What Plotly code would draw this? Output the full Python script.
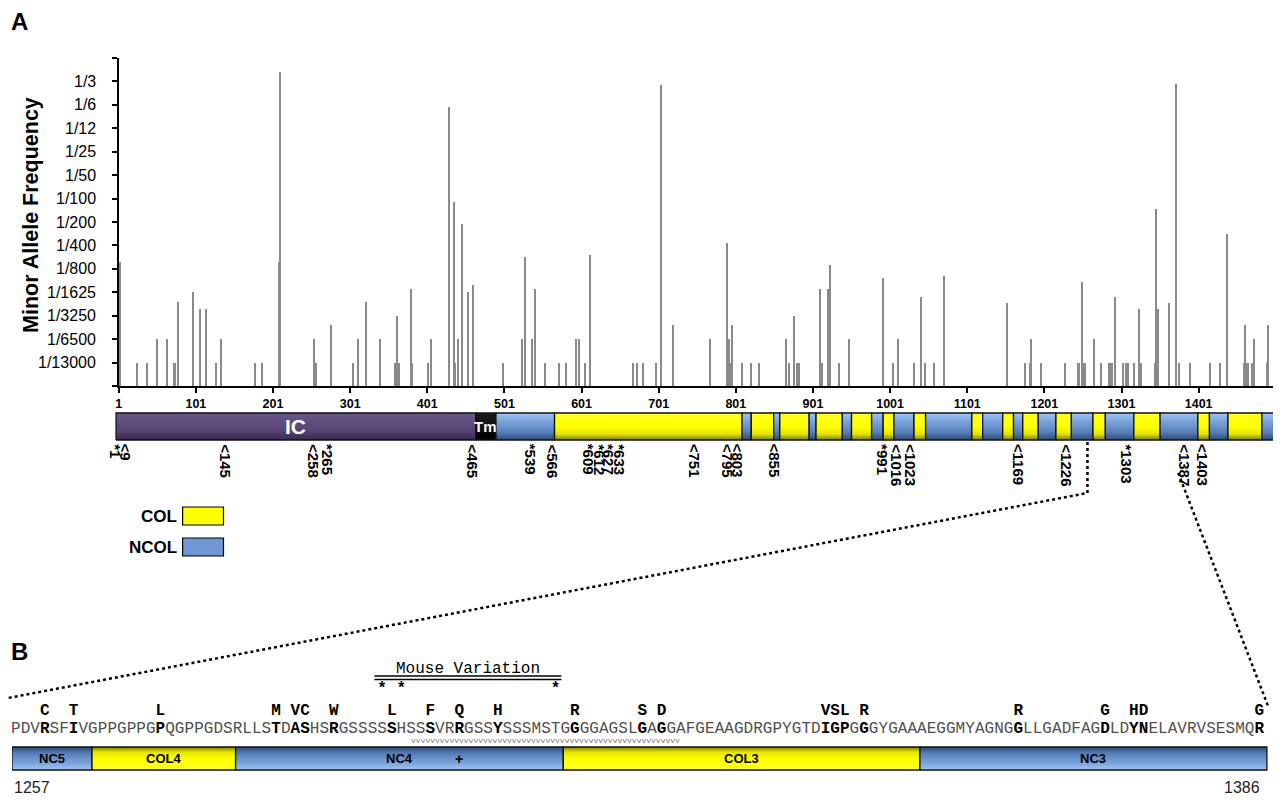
import plotly.graph_objects as go

W, H = 1281, 800
OFF = 8  # page body margin around the plot div
FW, FH = W - OFF, H - OFF

# =========================
# PANEL A DATA
# =========================
freq_labels = ["1/13000", "1/6500", "1/3250", "1/1625", "1/800", "1/400", "1/200",
               "1/100", "1/50", "1/25", "1/12", "1/6", "1/3"]
pos_ticks = [1, 101, 201, 301, 401, 501, 601, 701, 801, 901, 1001, 1101, 1201, 1301, 1401]

# residue position of each variant and its frequency level (1 = 1/13000, 13 = 1/3)
snp_pos = [3, 25, 38, 51, 63, 72, 74, 78, 97, 106, 114, 127, 134, 178, 186, 209, 210, 254, 257, 276,
           304, 311, 321, 339, 359, 362, 364, 380, 381, 402, 406, 429, 436, 437, 441, 446, 453, 460,
           499, 524, 527, 536, 541, 553, 572, 580, 593, 597, 605, 612, 668, 673, 680, 697, 704, 719,
           767, 789, 792, 794, 796, 809, 821, 831, 866, 870, 876, 880, 883, 910, 912, 920, 923, 935, 948,
           992, 1004, 1011, 1032, 1041, 1046, 1058, 1071, 1152, 1176, 1182, 1184, 1196, 1227, 1245, 1246,
           1249, 1252, 1254, 1265, 1274, 1285, 1287, 1289, 1293, 1303, 1306, 1309, 1317, 1324, 1326, 1344,
           1345, 1348, 1363, 1372, 1375, 1389, 1416, 1428, 1437, 1460, 1461, 1462, 1463, 1465, 1470, 1472,
           1489, 1491, 1499]
snp_level = [5.3, 1, 1, 2, 2, 1, 1, 3.6, 4.0, 3.3, 3.3, 1, 2, 1, 1, 5.3, 13.4, 2, 1, 2.6,
             1, 2, 3.6, 2, 1, 3.0, 1, 4.15, 1, 1, 2, 11.9, 7.85, 1, 2, 6.9, 4.0, 4.3,
             1, 2, 5.5, 2, 4.15, 1, 1, 1, 2, 2, 1, 5.6, 1, 1, 1, 1, 12.85, 2.6,
             2, 6.1, 2, 1, 2.6, 1, 1, 1, 2, 1, 3.0, 1, 1, 4.15, 1, 4.15, 5.15, 1, 2,
             4.6, 1, 2, 1, 3.8, 1, 1, 4.7, 3.55, 1, 1, 2, 1, 1, 1, 1,
             4.45, 1, 1, 2, 1, 1, 1, 1, 3.8, 1, 1, 1, 1, 3.3, 1, 1,
             7.55, 3.3, 3.55, 12.9, 1, 1, 1, 1, 6.5, 1, 2.6, 1, 1, 1, 1, 2,
             1, 2.6, 1]

# protein domain map (segment edges in residues)
dom_edges = [-2.5, 464, 490, 566, 809, 821, 850, 858, 896, 905, 939, 951, 977, 992, 1006, 1032, 1047,
             1107, 1121, 1147, 1161, 1173, 1193, 1216, 1236, 1264, 1280, 1317, 1351, 1400, 1415, 1439,
             1483, 1500]
dom_kind = ["IC", "Tm",
            "NCOL", "COL", "NCOL", "COL", "NCOL", "COL", "NCOL", "COL", "NCOL", "COL", "NCOL",
            "COL", "NCOL", "COL", "NCOL", "COL", "NCOL", "COL", "NCOL", "COL", "NCOL", "COL",
            "NCOL", "COL", "NCOL", "COL", "NCOL", "COL", "NCOL", "COL", "NCOL"]

site_text = ["*1", "<9", "<145", "<258", "*265", "<465", "*539", "<566", "*609", "*612", "*627",
             "*633", "<751", "<795", "<803", "<855", "*991", "<1016", "<1023", "<1169", "<1226",
             "*1303", "<1387", "<1403"]
site_res = [1, 9, 145, 258, 265, 465, 539, 566, 609, 612, 627, 633, 751, 795, 803, 855, 991, 1016,
            1023, 1169, 1226, 1303, 1387, 1403]
site_nudge = [-3, 1, -4, -3, 5, -4, -3, -2, 1, 9, 7, 13, -2, -3, 1, -2, 0, -5, 4, -1, 3, 3, -3, 3]

# =========================
# PANEL B DATA
# =========================
seq_first = 1257
seq = ("PDVRSFIVGPPGPPGPQGPPGDSRLLSTDASHSRGSSSSSHSSSVRRGSSYSSSMSTGGGGAGSLGAGGAFGEAAGDRGPYG"
       "TDIGPGGGYGAAAEGGMYAGNGGLLGADFAGDLDYNELAVRVSESMQR")
var_res = [1260, 1263, 1272, 1284, 1286, 1287, 1290, 1296, 1300, 1303, 1307, 1315, 1322, 1324,
           1341, 1342, 1343, 1345, 1361, 1370, 1373, 1374, 1386]
var_aa = ["C", "T", "L", "M", "V", "C", "W", "L", "F", "Q", "H", "R", "S", "D",
          "V", "S", "L", "R", "R", "G", "H", "D", "G"]
mouse_res = [1295, 1297, 1313]
wavy_span = [1300, 1324]

b_edges = [1256.6, 1264.9, 1279.8, 1313.8, 1350.8, 1386.8]
b_kind = ["NCOL", "COL", "NCOL", "COL", "NCOL"]
b_name = ["NC5", "COL4", "NC4", "COL3", "NC3"]
plus_res = 1303

GRAD = {
    "NCOL": [[0, "#2c4b75"], [0.3, "#5880ba"], [0.75, "#80a9e1"], [1, "#a4c6f3"]],
    "COL": [[0, "#7a7a00"], [0.22, "#e4e400"], [0.5, "#ffff00"], [1, "#ffff2a"]],
    "IC": [[0, "#38294f"], [0.35, "#574474"], [1, "#6b578b"]],
    "Tm": [[0, "#000000"], [1, "#1c1c1c"]],
}
FONT = "Arial, Liberation Sans, sans-serif"
MONO = "Courier New, Liberation Mono, monospace"

# pixel helpers (pixel = position on the 1281x800 page)
sx = (1275 - 116) / (1500 - 1)


def res_a(px):
    return 1 + (px - 116) / sx


cw = 1256 / 130


def res_b(px):
    return seq_first - 0.5 + (px - 8) / cw


def px_x(px):
    return (px - OFF) / FW


def px_y(py):
    return 1 - (py - OFF) / FH


def segment(x0, x1, y0, y1, kind, xa, ya, flip=False):
    cs = GRAD[kind]
    if flip:
        cs = [[1 - p, c] for p, c in reversed(cs)]
    return go.Scatter(x=[x0, x1, x1, x0, x0], y=[y0, y0, y1, y1, y0], mode="lines",
                      fill="toself", fillgradient=dict(type="vertical", colorscale=cs),
                      line=dict(color="#111111", width=1.3), xaxis=xa, yaxis=ya,
                      hoverinfo="skip", showlegend=False)


fig = go.Figure()

# frequency bars
fig.add_trace(go.Bar(x=snp_pos, y=snp_level, width=1.6,
                     marker=dict(color="#8a8a8a", line=dict(width=0)),
                     xaxis="x", yaxis="y", hoverinfo="skip"))

# domain map A
for i, k in enumerate(dom_kind):
    fig.add_trace(segment(dom_edges[i], dom_edges[i + 1], 0, 1, k, "x2", "y2"))

# panel B domain bar
for i, k in enumerate(b_kind):
    fig.add_trace(segment(b_edges[i], b_edges[i + 1], 770, 747, k, "x3", "y3", flip=True))

# sequence
bold = set(var_res)
seq_x = [seq_first + i for i in range(len(seq))]
seq_txt = ["<b>%s</b>" % c if seq_first + i in bold else c for i, c in enumerate(seq)]
seq_col = ["#000000" if seq_first + i in bold else "#505050" for i, c in enumerate(seq)]
fig.add_trace(go.Scatter(x=seq_x, y=[729] * len(seq), mode="text", text=seq_txt,
                         textfont=dict(family=MONO, size=16, color=seq_col),
                         xaxis="x3", yaxis="y3", cliponaxis=False, hoverinfo="skip"))
fig.add_trace(go.Scatter(x=var_res, y=[711] * len(var_res), mode="text",
                         text=["<b>%s</b>" % a for a in var_aa],
                         textfont=dict(family=MONO, size=16, color="black"),
                         xaxis="x3", yaxis="y3", cliponaxis=False, hoverinfo="skip"))
fig.add_trace(go.Scatter(x=mouse_res, y=[689] * len(mouse_res), mode="text",
                         text=["<b>*</b>"] * len(mouse_res),
                         textfont=dict(family=MONO, size=16, color="black"),
                         xaxis="x3", yaxis="y3", cliponaxis=False, hoverinfo="skip"))
lo, hi = min(mouse_res) - 0.8, max(mouse_res) + 0.6
for yy in (676, 679.5):
    fig.add_trace(go.Scatter(x=[lo, hi], y=[yy, yy], mode="lines",
                             line=dict(color="black", width=1.6),
                             xaxis="x3", yaxis="y3", hoverinfo="skip"))

fig.update_layout(
    width=FW, height=FH, margin=dict(l=0, r=0, t=0, b=0),
    paper_bgcolor="white", plot_bgcolor="rgba(0,0,0,0)",
    showlegend=False, bargap=0,
    font=dict(family=FONT, color="black"),
    xaxis=dict(domain=[px_x(116), px_x(1275)], range=[1, 1500], anchor="y",
               showline=True, linecolor="black", linewidth=2, ticks="outside", ticklen=5,
               tickwidth=2, tickcolor="black", tickvals=pos_ticks,
               tickfont=dict(size=12.5, weight="bold", family=FONT),
               showgrid=False, zeroline=False),
    yaxis=dict(domain=[px_y(386), px_y(58)], range=[0, 14], anchor="x",
               showline=True, linecolor="black", linewidth=2, ticks="outside", ticklen=5,
               tickwidth=2, tickcolor="black", tickvals=list(range(15)),
               showticklabels=False, showgrid=False, zeroline=False),
    xaxis2=dict(domain=[px_x(110), px_x(1279)], range=[res_a(110), res_a(1279)],
                anchor="y2", visible=False),
    yaxis2=dict(domain=[px_y(442), px_y(411)], range=[-2 / 27, 1 + 2 / 27],
                anchor="x2", visible=False),
    xaxis3=dict(domain=[px_x(9), px_x(1272)], range=[res_b(9), res_b(1272)],
                anchor="y3", visible=False),
    yaxis3=dict(domain=[px_y(778), px_y(652)], range=[778, 652], anchor="x3", visible=False),
)

ann = []


def pann(px, py, text, xa="center", ya="middle", **kw):
    d = dict(x=px_x(px), y=px_y(py), xref="paper", yref="paper", text=text,
             showarrow=False, xanchor=xa, yanchor=ya)
    d.update(kw)
    ann.append(d)


pann(17, 21, "<b>A</b>", font=dict(size=24, family=FONT))
pann(17, 651, "<b>B</b>", font=dict(size=24, family=FONT))
pann(28, 215, "<b>Minor Allele Frequency</b>", textangle=-90, font=dict(size=21.5, family=FONT))

# y tick labels, set back from the axis as in the original
for i, lbl in enumerate(freq_labels):
    ann.append(dict(x=px_x(95), y=i + 1, xref="paper", yref="y", text=lbl, showarrow=False,
                    xanchor="right", yanchor="middle", font=dict(size=16, family=FONT)))

# domain labels in bar A
for i, k in enumerate(dom_kind):
    if k in ("IC", "Tm"):
        ann.append(dict(x=(dom_edges[i] + dom_edges[i + 1]) / 2, y=0.5, xref="x2", yref="y2",
                        text="<b>%s</b>" % k, showarrow=False,
                        font=dict(size=21 if k == "IC" else 15, color="white", family=FONT)))

# mutation sites under bar A
for t, r, n in zip(site_text, site_res, site_nudge):
    ann.append(dict(x=r, y=px_y(442), xref="x2", yref="paper", text="<b>%s</b>" % t,
                    showarrow=False, textangle=90, xshift=n, yanchor="top", xanchor="center",
                    font=dict(size=15, family=FONT)))

# legend
pann(176, 516, "<b>COL</b>", xa="right", font=dict(size=17, family=FONT))
pann(176, 547, "<b>NCOL</b>", xa="right", font=dict(size=17, family=FONT))

# panel B labels
ann.append(dict(x=(lo + hi) / 2, y=669, xref="x3", yref="y3", text="Mouse Variation",
                showarrow=False, font=dict(size=16, family=MONO)))
ann.append(dict(x=sum(wavy_span) / 2, y=740, xref="x3", yref="y3",
                text="v" * 56, showarrow=False, font=dict(size=8, family=MONO, color="#777777")))
for i, nm in enumerate(b_name):
    ann.append(dict(x=(b_edges[i] + b_edges[i + 1]) / 2, y=758.5, xref="x3", yref="y3",
                    text="<b>%s</b>" % nm, showarrow=False, font=dict(size=13, family=FONT)))
ann.append(dict(x=plus_res, y=758.5, xref="x3", yref="y3", text="<b>+</b>",
                showarrow=False, font=dict(size=14, family=FONT)))
pann(29, 787, str(seq_first), font=dict(size=16, family=FONT, color="#222222"))
pann(1242, 787, str(seq_first + len(seq) - 1), font=dict(size=16, family=FONT, color="#222222"))

fig.update_layout(annotations=ann)

# legend swatches and zoom connectors
shapes = [
    dict(type="rect", xref="paper", yref="paper", x0=px_x(180), x1=px_x(221),
         y0=px_y(525), y1=px_y(507), fillcolor="#ffff00", line=dict(color="black", width=1.2)),
    dict(type="rect", xref="paper", yref="paper", x0=px_x(180), x1=px_x(221),
         y0=px_y(556), y1=px_y(538), fillcolor="#6f98d4", line=dict(color="black", width=1.2)),
    dict(type="path", xref="paper", yref="paper",
         path="M %f,%f L %f,%f L %f,%f" % (px_x(1087), px_y(442), px_x(1087), px_y(493),
                                           px_x(5), px_y(698)),
         line=dict(color="black", width=2.5, dash="dot")),
    dict(type="path", xref="paper", yref="paper",
         path="M %f,%f L %f,%f" % (px_x(1178), px_y(473), px_x(1268), px_y(706)),
         line=dict(color="black", width=2.5, dash="dot")),
]
fig.update_layout(shapes=shapes)

fig.write_html("out.html")
